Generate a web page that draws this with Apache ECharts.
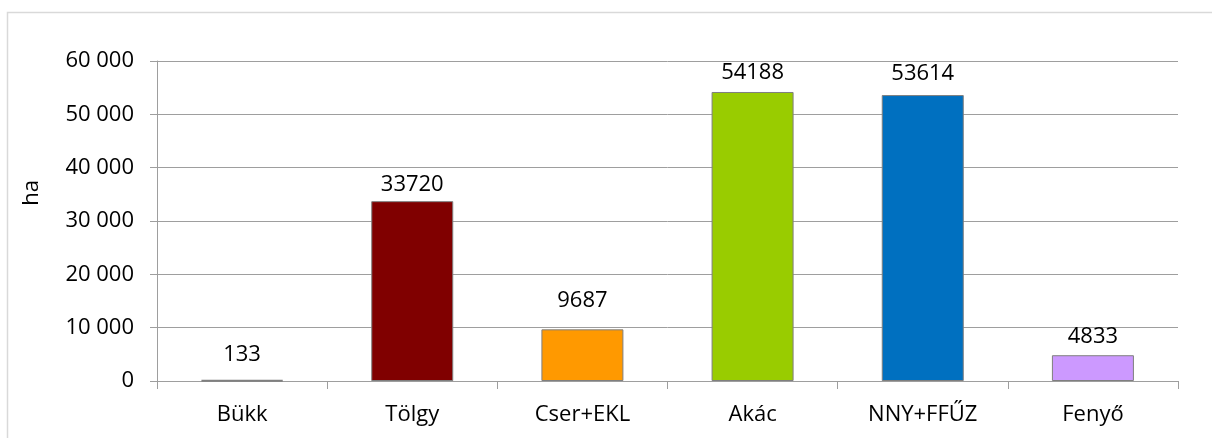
<!DOCTYPE html>
<html>
<head>
<meta charset="utf-8">
<script src="https://cdn.jsdelivr.net/npm/echarts@6/dist/echarts.min.js"></script>
<style>
html,body{margin:0;padding:0;background:#fff;}
#c{width:1212px;height:438px;}
</style>
</head>
<body>
<div id="c"></div>
<script>
const categories = ['Bükk', 'Tölgy', 'Cser+EKL', 'Akác', 'NNY+FFŰZ', 'Fenyő'];
const values = [133, 33720, 9687, 54188, 53614, 4833];
const barColors = ['#7f7f7f', '#800000', '#ff9900', '#99cc00', '#0070c0', '#cc99ff'];
const labelGaps = [14, 5, 18, 8, 10, 7];
const yTicks = { min: 0, max: 60000, interval: 10000 };
const axisTitle = 'ha';

const FONT = '"Open Sans", sans-serif';
const chart = echarts.init(document.getElementById('c'), null, { renderer: 'canvas' });

function fmt(v) {
  return String(v).replace(/\B(?=(\d{3})+(?!\d))/g, ' ');
}

chart.setOption({
  animation: false,
  backgroundColor: '#ffffff',
  grid: { left: 157, right: 34, top: 61, bottom: 57, containLabel: false },
  graphic: [
    {
      type: 'rect',
      shape: { x: 7.5, y: 12.5, width: 1400, height: 600 },
      style: { fill: 'none', stroke: '#d9d9d9', lineWidth: 1.5 },
      silent: true
    },
    {
      type: 'text',
      x: 32, y: 193,
      rotation: Math.PI / 2,
      style: {
        text: axisTitle, fill: '#000', font: '22px ' + FONT,
        align: 'center', verticalAlign: 'middle'
      }
    }
  ],
  xAxis: {
    type: 'category',
    data: categories,
    boundaryGap: true,
    axisLine: { show: true, lineStyle: { color: '#9e9e9e', width: 1 } },
    axisTick: { show: true, length: 8, lineStyle: { color: '#9e9e9e' } },
    axisLabel: { color: '#000', fontSize: 22, fontFamily: FONT, margin: 23 },
    splitLine: { show: false }
  },
  yAxis: {
    type: 'value',
    min: yTicks.min, max: yTicks.max, interval: yTicks.interval,
    axisLine: { show: true, lineStyle: { color: '#9e9e9e', width: 1 } },
    axisTick: { show: true, length: 7, lineStyle: { color: '#9e9e9e' } },
    axisLabel: { color: '#000', fontSize: 22, fontFamily: FONT, margin: 23, formatter: fmt },
    splitLine: { show: true, lineStyle: { color: '#9e9e9e', width: 1 } }
  },
  series: [{
    type: 'bar',
    barWidth: 82,
    data: values.map((v, i) => ({
      value: v,
      itemStyle: { color: barColors[i], borderColor: '#7f7f7f', borderWidth: i === 0 ? 2 : 1 },
      label: { distance: labelGaps[i] }
    })),
    label: {
      show: true, position: 'top', color: '#000',
      fontSize: 22, fontFamily: FONT
    }
  }]
});
</script>
</body>
</html>
